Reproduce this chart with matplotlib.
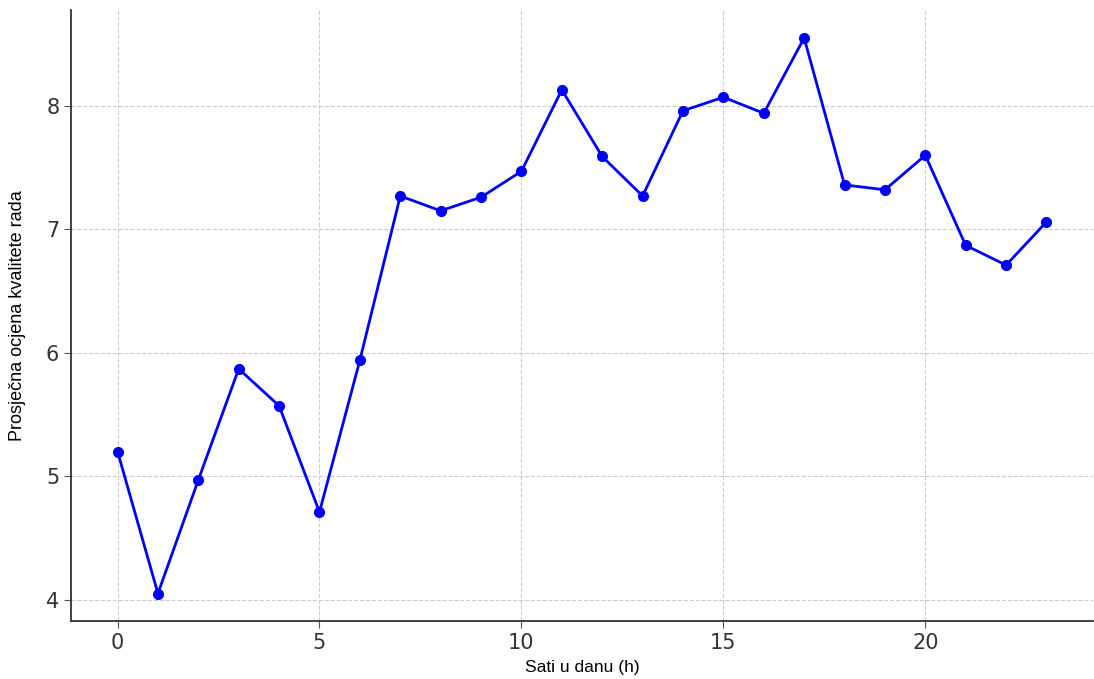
import matplotlib
matplotlib.use('Agg')
import matplotlib.pyplot as plt

hours = list(range(24))
quality = [5.20, 4.05, 4.97, 5.87, 5.57, 4.71, 5.94, 7.27, 7.15, 7.26,
           7.47, 8.13, 7.59, 7.27, 7.96, 8.07, 7.94, 8.55, 7.36, 7.32,
           7.60, 6.87, 6.71, 7.06]


def run():
    fig = plt.figure(figsize=(10.94, 6.79), dpi=100)
    ax = fig.add_axes([0.065, 0.085, 0.934, 0.9])
    ax.plot(hours, quality, color='blue', marker='o', markersize=7, linewidth=2)
    ax.grid(True, linestyle='--', color='#cccccc', linewidth=0.8)
    ax.spines['top'].set_visible(False)
    ax.spines['right'].set_visible(False)
    for s in ('left', 'bottom'):
        ax.spines[s].set_linewidth(1.3)
        ax.spines[s].set_color('#333333')
    ax.set_xticks([0, 5, 10, 15, 20])
    ax.set_yticks([4, 5, 6, 7, 8])
    ax.tick_params(labelsize=15, labelcolor='#333333', color='#555555', length=5)
    ax.set_xlabel('Sati u danu (h)', fontsize=12.5, family='Liberation Sans', labelpad=5)
    ax.set_ylabel('Prosječna ocjena kvalitete rada', fontsize=13,
                  family='Liberation Sans', labelpad=14)
    fig.savefig('out.png', dpi=100)


if __name__ == "__main__":
    run()
